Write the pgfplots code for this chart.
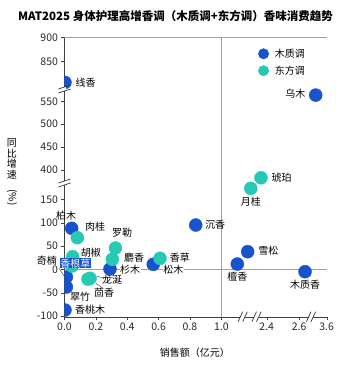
\documentclass[border=0pt]{standalone}
\usepackage{fontspec}
\setmainfont{Noto Sans CJK SC}
\usepackage{pgfplots}
\pgfplotsset{compat=1.18}
\usepackage{pgfplotstable}
\usepackage{graphicx}
\definecolor{wood}{HTML}{1753CC}
\definecolor{orient}{HTML}{27C9B5}
\definecolor{refl}{HTML}{A0A0A0}

% display units: x = sales position (0..1 real, then broken), y = growth position (-100..150 real, then broken)
\pgfplotstableread{
x y name
0.003 400.4 线香
1.602 373.2 乌木
1.168 37.7 雪松
1.102 11.3 檀香
1.534 -5.1 木质香
0.837 94.9 沉香
0.566 10.7 松木
0.290 0.6 杉木
0.046 87.8 柏木
0.012 -16.5 奇楠
0.012 -37.9 翠竹
0.003 -87.2 香桃木
}\wooddata
\pgfplotstableread{
x y name
1.253 196.1 琥珀
1.188 173.4 月桂
0.609 23.6 香草
0.325 45.6 罗勒
0.305 21.4 麝香
0.082 67.7 肉桂
0.052 27.0 胡椒
0.048 7.0 香根草
0.163 -19.3 龙涎
0.150 -21.0 茴香
}\orientdata

\begin{document}
\begin{tikzpicture}[x=1pt,y=1pt]
\path[use as bounding box] (-64.5,-48.3) rectangle (277.5,316.7);
\begin{axis}[at={(0,0)}, anchor=south west, scale only axis,
  width=262.5pt, height=279.4pt,
  xmin=0, xmax=1.674, ymin=-101.5, ymax=497,
  axis lines=left, axis line style={-, black!75},
  xtick={0,0.2,0.4,0.6,0.8,1.0,1.290,1.496,1.672},
  xticklabels={0.0,0.2,0.4,0.6,0.8,1.0,2.4,2.6,3.6},
  ytick={-100,-50,0,50,100,150,213,262,311,360,445,496.9},
  yticklabels={-100,-50,0,50,100,150,400,450,500,550,850,900},
  tick align=outside, major tick length=3pt, tick style={black!75},
  ticklabel style={font=\fontsize{10.5}{12}\selectfont, text=black!85},
  /pgf/number format/assume math mode=true,
  clip marker paths=true,
  legend cell align=left,
  legend style={at={(axis cs:1.235,477)}, anchor=north west, draw=none, fill=none,
    font=\fontsize{10}{12}\selectfont, row sep=3pt, inner sep=0pt},
  legend image code/.code={\draw[#1, mark size=5.2pt] plot coordinates {(0pt,0pt)};},
]
\draw[refl] (axis cs:0,0) -- (axis cs:1.674,0);
\draw[refl] (axis cs:1.0,-101.5) -- (axis cs:1.0,497);
\draw[refl] (axis cs:0,497) -- (axis cs:1.674,497);

\addplot[only marks, mark=*, mark size=6.5pt, wood, mark options={draw=wood, fill=wood}] table[x=x,y=y] {\wooddata};
\addlegendentry{\hspace{4pt}木质调}
\addplot[only marks, mark=*, mark size=6.5pt, orient, mark options={draw=orient, fill=orient}] table[x=x,y=y] {\orientdata};
\addlegendentry{\hspace{4pt}东方调}

\coordinate (a1) at (axis cs:0.067,398.9);
\coordinate (a2) at (axis cs:1.540,375.4);
\coordinate (a3) at (axis cs:1.317,196.1);
\coordinate (a4) at (axis cs:1.188,144.8);
\coordinate (a5) at (axis cs:1.232,39.2);
\coordinate (a6) at (axis cs:1.102,-15.8);
\coordinate (a7) at (axis cs:1.534,-33.6);
\coordinate (a8) at (axis cs:0.892,94.9);
\coordinate (a9) at (axis cs:0.668,24.2);
\coordinate (a10) at (axis cs:0.694,-1.5);
\coordinate (a11) at (axis cs:0.367,77.7);
\coordinate (a12) at (axis cs:0.375,24.9);
\coordinate (a13) at (axis cs:0.418,0);
\coordinate (a14) at (axis cs:0.010,114.8);
\coordinate (a15) at (axis cs:0.195,91.2);
\coordinate (a16) at (axis cs:0.169,36.4);
\coordinate (a17) at (axis cs:-0.112,17.8);
\coordinate (a18) at (axis cs:0.303,-22.9);
\coordinate (a19) at (axis cs:0.252,-50.1);
\coordinate (a20) at (axis cs:0.099,-58.7);
\coordinate (a21) at (axis cs:0.163,-87.2);
\coordinate (b1) at (axis cs:-0.035,2);
\coordinate (b2) at (axis cs:-0.003,-14.3);
\coordinate (b3) at (axis cs:0.201,-30);
\coordinate (b4) at (axis cs:0.246,-40.7);
\coordinate (b5) at (axis cs:0.207,-14.3);
\coordinate (b6) at (axis cs:0.252,-20);
\coordinate (a22) at (axis cs:0.069,12.8);
\end{axis}

\begin{scope}[font=\fontsize{10}{12}\selectfont, inner sep=0.5pt]
\node[anchor=west] at (a1) {线香};
\node[anchor=east] at (a2) {乌木};
\node[anchor=west] at (a3) {琥珀};
\node at (a4) {月桂};
\node[anchor=west] at (a5) {雪松};
\node at (a6) {檀香};
\node at (a7) {木质香};
\node[anchor=west] at (a8) {沉香};
\node[anchor=west] at (a9) {香草};
\node[fill=white] at (a10) {松木};
\node at (a11) {罗勒};
\node[anchor=west] at (a12) {麝香};
\node[fill=white] at (a13) {杉木};
\node at (a14) {柏木};
\node at (a15) {肉桂};
\node at (a16) {胡椒};
\node at (a17) {奇楠};
\node at (a18) {龙涎};
\node at (a19) {茴香};
\node at (a20) {翠竹};
\node at (a21) {香桃木};
\draw[black!80, thin] (b1) -- (b2);
\draw[black!80, thin] (b3) -- (b4);
\draw[black!80, thin] (b5) -- (b6);
\node[fill=wood, text=white, minimum width=31pt, minimum height=10pt, inner sep=0.3pt] at (a22) {香根草};
\end{scope}

% axis breaks on x
\foreach \bx in {178.2,192,246.5} {
  \fill[white] (\bx-2.3,-1.5) rectangle (\bx+2.3,1.5);
  \draw[black!80, line width=0.7pt] (\bx-4.6,-5) -- (\bx,5);
  \draw[black!80, line width=0.7pt] (\bx,-5) -- (\bx+4.6,5);
}
% axis breaks on y
\foreach \by in {133.7,227.7} {
  \fill[white] (-1.5,\by-2) rectangle (1.5,\by+2);
  \draw[black!80, line width=0.7pt] (-6,\by-4) -- (6,\by);
  \draw[black!80, line width=0.7pt] (-6,\by) -- (6,\by+4);
}

\node[font=\bfseries\fontsize{11.5}{13}\selectfont] at (111,301) {MAT2025 身体护理高增香调（木质调+东方调）香味消费趋势};
\node[font=\fontsize{10}{12}\selectfont] at (130.5,-36.3) {销售额（亿元）};
\node[font=\fontsize{10}{10.8}\selectfont, align=center, inner sep=0pt] at (-52.5,144.7) {同\\比\\增\\速\\\rotatebox{-90}{(\%)}};
\end{tikzpicture}
\end{document}
